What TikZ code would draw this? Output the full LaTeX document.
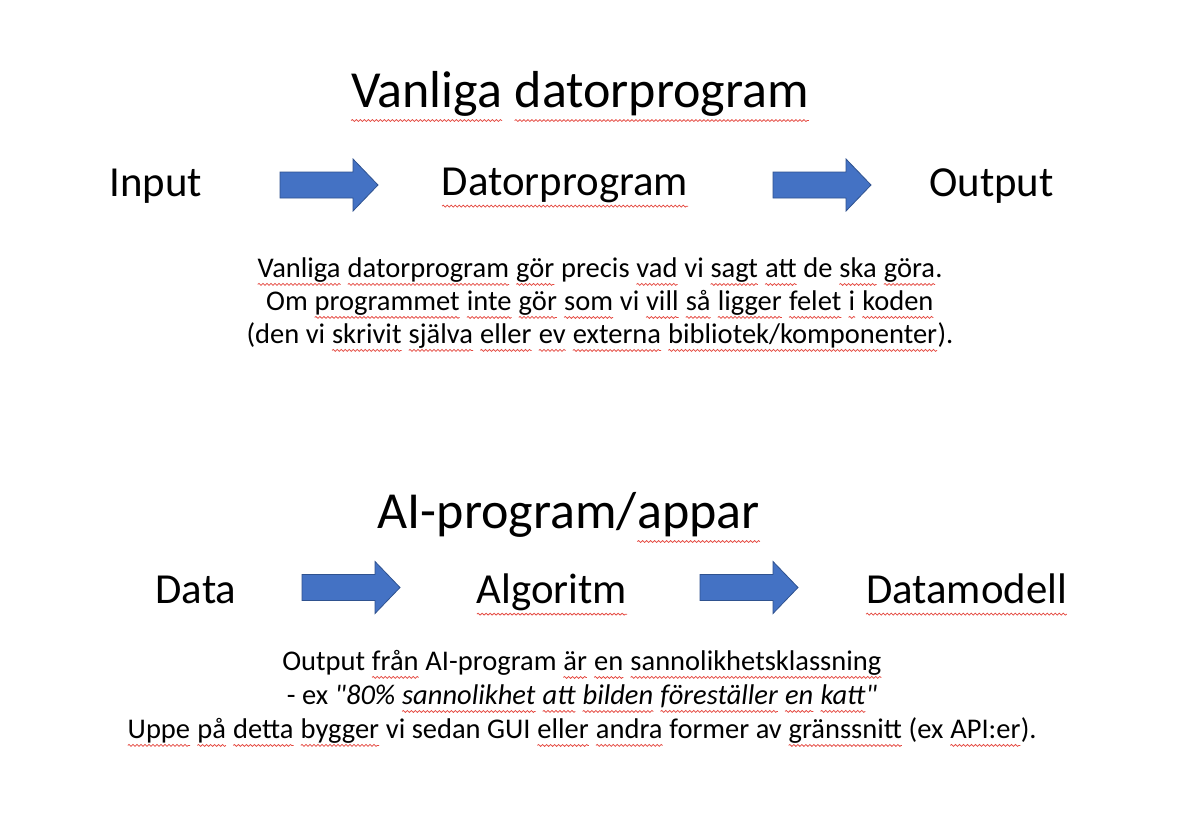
\documentclass[tikz,border=0pt]{standalone}
\usepackage{fontspec}
\setmainfont{Carlito}[Ligatures=TeXOff]
\usetikzlibrary{decorations.pathmorphing}

\definecolor{arrowblue}{HTML}{4472C4}
\definecolor{arrowedge}{HTML}{2F528F}
\definecolor{squigred}{HTML}{E5483F}

\tikzset{
  squig/.style={draw=squigred, line width=0.75pt, decorate,
    decoration={snake, amplitude=0.95pt, segment length=4pt}},
  heading/.style={anchor=base, inner sep=0pt, font=\fontsize{52}{62}\selectfont},
  stage/.style={anchor=base, inner sep=0pt, font=\fontsize{42.8}{51}\selectfont},
  body/.style={anchor=base, inner sep=0pt, font=\fontsize{28.5}{34}\selectfont},
  blockarrow/.style={fill=arrowblue, draw=arrowedge, line width=0.8pt, line join=miter},
  blockarr/.pic={
    \draw[blockarrow] (0,-13) -- (73,-13) -- (73,-26) -- (98,0)
      -- (73,26) -- (73,13) -- (0,13) -- cycle;
  },
}

% word with a red wavy underline
\newcommand\sq[1]{\tikz[baseline=(w.base)]{%
  \node[inner sep=0pt, outer sep=0pt, anchor=base, draw=none, fill=none] (w) {#1};
  \draw[squig] ([yshift=-0.26em]w.base west) -- ([yshift=-0.26em]w.base east);}}

\begin{document}
\begin{tikzpicture}[x=1pt, y=-1pt]
  \path[use as bounding box, fill=white] (0,0) rectangle (1186,836);

  % ---- ordinary programs ----
  \node[heading] (t1) at (580,107) {\sq{Vanliga} \sq{datorprogram}};

  \node[stage] (in)  at (156,196) {Input};
  \node[stage] (prg) at (565,195) {\sq{Datorprogram}};
  \node[stage] (out) at (991.5,196) {Output};
  \pic at (280,185) {blockarr};
  \pic at (773,185) {blockarr};

  \node[body] (a1) at (600,277) {\sq{Vanliga} \sq{datorprogram} \sq{gör} precis \sq{vad} vi \sq{sagt} \sq{att} de \sq{ska} \sq{göra}.};
  \node[body] (a2) at (600,310) {Om \sq{programmet} \sq{inte} \sq{gör} \sq{som} vi \sq{vill} \sq{så} \sq{ligger} \sq{felet} \sq{i} \sq{koden}};
  \node[body] (a3) at (600,343) {(den vi \sq{skrivit} \sq{själva} \sq{eller} \sq{ev} \sq{externa} \sq{bibliotek/komponenter}).};

  % ---- AI programs ----
  \node[heading] (t2) at (569,528) {AI-program/\sq{appar}};

  \node[stage] (dat) at (196,603) {Data};
  \node[stage] (alg) at (552,603) {\sq{Algoritm}};
  \node[stage] (mod) at (966.5,603) {\sq{Datamodell}};
  \pic at (302,587.5) {blockarr};
  \pic at (700,587.5) {blockarr};

  \node[body] (b1) at (582,670) {Output \sq{från} AI-program \sq{är} \sq{en} \sq{sannolikhetsklassning}};
  \node[body] (b2) at (582,704) {- ex \textit{"80\% \sq{sannolikhet} \sq{att} \sq{bilden} \sq{föreställer} \sq{en} \sq{katt}"}};
  \node[body] (b3) at (582,738) {\sq{Uppe} \sq{på} \sq{detta} \sq{bygger} vi sedan GUI \sq{eller} \sq{andra} former av \sq{gränssnitt} (ex \sq{API:er}).};
\end{tikzpicture}
\end{document}
